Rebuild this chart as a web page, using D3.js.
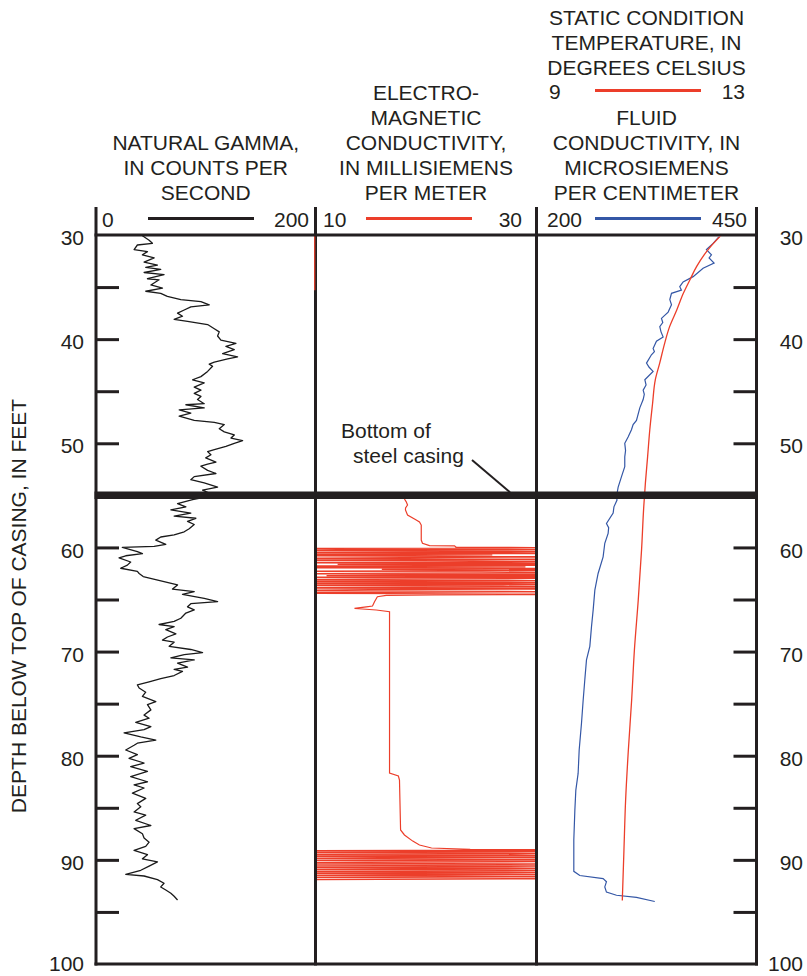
<!DOCTYPE html>
<html>
<head>
<meta charset="utf-8">
<script src="https://cdn.jsdelivr.net/npm/d3@7"></script>
<style>
  html, body { margin: 0; padding: 0; background: #fff; }
  svg { display: block; font-family: "Liberation Sans", Arial, Helvetica, sans-serif; }
</style>
</head>
<body>
<svg id="chart" width="807" height="976"></svg>
<script>
// ---- Depth axis ----
const depthLabels = [30, 40, 50, 60, 70, 80, 90, 100];
const depthMinorTicks = [35, 40, 45, 50, 55, 60, 65, 70, 75, 80, 85, 90, 95];
const casingDepth = 55;

// ---- Natural gamma, counts per second: [depth ft, value] ----
const gamma = [
  [30.05,42],[30.5,48.4],[30.8,51.4],[30.96,37.7],[31.4,34.7],[31.6,46.9],[31.9,42.3],[32.2,53],
  [32.6,43.8],[32.9,56],[33.1,45.3],[33.3,59],[33.6,43.8],[33.8,62],[34.2,46.9],[34.3,57.5],
  [34.8,50],[35.1,60.6],[35.4,45.3],[35.6,59],[35.9,65],[36.2,77.3],[36.4,95.6],[36.7,103.2],
  [36.9,86.4],[37.2,80.4],[37.5,74.3],[37.8,78.8],[38.1,71.2],[38.3,83.4],[38.6,101.7],[39,107.8],
  [39.3,112.3],[39.7,110.8],[40.1,113.8],[40.4,127.5],[40.7,118.4],[41,126],[41.4,115.4],[41.7,129],
  [41.9,120],[42.2,107.8],[42.4,103.2],[42.6,106.2],[43.1,101.7],[43.6,95.6],[43.9,88],[44.2,98.6],
  [44.6,89.5],[44.9,95.6],[45.2,89.5],[45.5,95.6],[45.8,92.5],[46.2,98.6],[46.3,81.9],[46.6,98.6],
  [46.8,75.8],[47.1,86.4],[47.4,75.8],[47.8,89.5],[48,107.8],[48.2,116.9],[48.6,112.3],[48.9,116.9],
  [49.2,126],[49.5,123],[49.75,133.6],[50,126],[50.3,118.4],[50.6,107.8],[50.8,101.7],[51.1,104.7],
  [51.4,100],[51.8,109.3],[52,101.7],[52.2,95.6],[52.6,101.7],[52.9,109.3],[53.2,89.5],[53.5,86.4],
  [53.8,98.6],[54.2,110.8],[54.5,97.1],[55,107.8],[55.4,88],[55.8,74.3],[56.1,81.9],[56.4,68.2],
  [56.7,86.4],[57,71.2],[57.2,91],[57.5,83.4],[57.8,89.5],[58.2,84.9],[58.5,80.4],[58.8,71.2],
  [59,59],[59.3,54.5],[59.7,63.6],[59.9,53],[60,24],[60.4,37.7],[60.6,42.3],[60.8,27.1],
  [61,21],[61.4,31.6],[61.7,28.6],[62,22.5],[62.3,37.7],[62.5,39.3],[62.8,43],[63.6,74.3],
  [64,69.7],[64.25,89.5],[64.5,78.8],[64.9,98.6],[65.2,110.8],[65.4,86.4],[65.7,83.4],[66,89.5],
  [66.3,81.9],[66.8,77.3],[67.1,71.2],[67.4,57.5],[67.6,71.2],[67.9,63.6],[68.3,72.8],[68.6,65.1],
  [68.9,60.6],[69.1,71.2],[69.5,66.7],[69.8,86.4],[70.1,97.1],[70.3,80.4],[70.6,68.2],[70.8,89.5],
  [71.1,74.3],[71.5,83.4],[71.7,71.2],[71.9,78.8],[72.3,71.2],[72.6,59],[72.9,48.4],[73.2,37.7],
  [73.5,39.3],[73.9,45.3],[74.3,42.3],[74.8,54.5],[75.1,46.9],[75.6,50],[76.1,43.8],[76.4,48.4],
  [76.8,36.2],[77.2,50],[77.5,43.8],[77.8,25.6],[78.2,40.8],[78.5,54.5],[78.8,37.7],[79,34.7],
  [79.45,27.1],[79.9,37.7],[80.25,30.1],[80.7,43.8],[81.05,31.6],[81.5,46.9],[82,31.6],[82.5,46.9],
  [82.8,34.7],[83.1,43.8],[83.6,33.2],[84.1,45.3],[84.6,37.7],[84.9,40.8],[85.4,34.7],[85.7,45.3],
  [86.2,36.2],[86.7,50],[87,34.7],[87.5,42.3],[87.9,43.8],[88.3,48.4],[88.7,45.3],[89.1,34.7],
  [89.5,46.9],[89.9,42.3],[90.2,56],[90.6,48.4],[91,40.8],[91.4,27.1],[91.55,43.8],[91.9,56],
  [92.25,62],[92.6,59],[92.9,63.6],[93.2,68.2],[93.5,71.2],[93.85,74.3]
];

// ---- Electromagnetic conductivity, millisiemens per meter: [depth ft, value] ----
// null marks the gap in the record; off-scale readings run past the track edges.
const emConductivity = [
  [30.0,9.93],[35.3,9.93],[null,null],
  [55.35,18.05],[55.6,18.2],[55.93,18.33],[56.2,18.15],[56.4,18.14],[56.89,18.33],[57.3,19.0],
  [57.56,19.41],[57.85,19.57],[59.29,19.57],[59.6,19.68],[59.83,20.32],[59.85,22.58],[59.99,22.73],
  [60.0,27.56],[60.05,34],[60.1,4],[60.18,14],[60.22,35],[60.3,3],[60.36,23],[60.42,36],[60.5,5],
  [60.58,36],[60.66,4],[60.72,26],[60.8,2],[60.9,36],[60.98,18],[61.05,4],[61.15,36],[61.22,6],
  [61.3,21],[61.38,37],[61.46,3],[61.55,35],[61.62,12],[61.7,37],[61.78,5],[61.86,29],[61.94,2],
  [62.02,36],[62.1,16],[62.2,38],[62.28,4],[62.36,25],[62.45,36],[62.52,3],[62.62,34],[62.7,11],
  [62.78,36],[62.86,5],[62.95,36],[63.02,20],[63.1,3],[63.2,37],[63.28,4],[63.38,33],[63.46,8],
  [63.55,36],[63.64,2],[63.72,27],[63.8,36],[63.88,4],[63.98,36],[64.06,15],[64.15,3],[64.25,35],
  [64.38,2],[64.5,35],[64.57,20.77],[64.6,16.4],[64.73,15.6],[65.21,15.34],[65.63,15.16],[65.7,14.6],
  [65.85,13.53],[65.91,14.25],[66.01,15.5],[66.17,16.7],[81.66,16.7],[81.95,17.5],[82.33,17.6],
  [87.13,17.7],[87.61,18.05],[88.2,18.8],[88.57,19.41],[88.86,20.5],[89.0,24],
  [89.05,36],[89.12,3],[89.2,37],[89.3,4],[89.4,35],[89.48,2],[89.58,36],[89.66,5],[89.75,34],
  [89.85,3],[89.95,37],[90.05,4],[90.15,36],[90.22,19],[90.3,3],[90.4,36],[90.5,5],[90.6,35],
  [90.7,3],[90.8,36],[90.9,4],[91.0,37],[91.1,2],[91.2,35],[91.3,5],[91.4,36],[91.5,3],[91.6,34],
  [91.7,4],[91.8,36],[91.93,3]
];

// ---- Fluid conductivity, microsiemens per centimeter: [depth ft, value] ----
const fluidConductivity = [
  [30.0,409],[30.16,407.5],[30.8,400.7],[31.4,393.1],[31.9,398.8],[32.2,396.1],[32.7,401.8],
  [33.2,389.3],[34,378],[34.5,366.6],[34.96,362.8],[35.3,364.7],[35.6,353.4],[36.2,351.5],
  [36.7,353.4],[37.4,349.6],[38,342],[38.4,343.5],[38.8,340.1],[39.3,341.5],[39.8,343.9],
  [40.2,336.3],[40.9,332.5],[41.2,334],[41.5,330.6],[42.3,325],[42.7,328],[43.1,332.5],[43.9,323.1],
  [44.4,324.5],[44.9,321.2],[45.3,322.5],[45.8,321.2],[46.6,317.4],[47.8,313.6],[48.2,309.8],
  [48.7,307.9],[49.4,304.1],[50,300.3],[50.7,301.2],[51.3,300.3],[52.25,300.3],[53.2,296.6],
  [54.2,292.8],[55.1,290.9],[55.45,291.5],[56.1,288],[56.7,287.1],[57.7,279.5],[58.1,282],
  [58.65,281.4],[59.6,277.6],[60.9,275.7],[62.5,270],[64.1,266.3],[66,264.4],[67.6,262.5],
  [69.5,260.6],[70.8,256.8],[72.7,254.9],[74.7,253],[76.9,251.1],[79.45,248.5],[81.7,247.3],
  [83.3,244.7],[85.2,243.6],[88.1,242.4],[91.1,242.4],[91.5,249.2],[91.8,275.7],[92.1,279.5],
  [92.6,277.6],[93.1,279.5],[93.4,290.9],[93.6,313.6],[94,334.4]
];

// ---- Static condition temperature, degrees Celsius: [depth ft, value] ----
const temperature = [
  [30,12.36],[31.4,12.12],[33.04,11.91],[34.3,11.79],[35.6,11.67],[37.2,11.55],[38.8,11.42],
  [40.4,11.33],[42.3,11.24],[43.9,11.16],[46.2,11.11],[48.7,11.06],[51.3,11.02],[53.8,10.98],
  [56.1,10.95],[60.25,10.91],[65.05,10.85],[69.85,10.78],[74.65,10.73],[79.45,10.67],[84.3,10.62],
  [89.06,10.59],[93.9,10.56]
];

// ---- Track headings and scale labels ----
const gammaTitle = ["NATURAL GAMMA,", "IN COUNTS PER", "SECOND"];
const emTitle = ["ELECTRO-", "MAGNETIC", "CONDUCTIVITY,", "IN MILLISIEMENS", "PER METER"];
const tempTitle = ["STATIC CONDITION", "TEMPERATURE, IN", "DEGREES CELSIUS"];
const fluidTitle = ["FLUID", "CONDUCTIVITY, IN", "MICROSIEMENS", "PER CENTIMETER"];
const gammaRange = [0, 200];
const emRange = [10, 30];
const tempRange = [9, 13];
const fluidRange = [200, 450];

// ---- Layout ----
const ink = "#231f20";
const red = "#ec3e2a";
const blue = "#3457a6";
const fontSize = 21;
const plotTop = 235, plotBottom = 964;
const trackX = [96, 315.5, 536.5, 756.5];

const svg = d3.select("#chart");

const y = d3.scaleLinear().domain([30, 100]).range([plotTop, plotBottom]);
const xGamma = d3.scaleLinear().domain(gammaRange).range([trackX[0], trackX[1]]);
const xEm = d3.scaleLinear().domain(emRange).range([trackX[1], trackX[2]]);
const xFluid = d3.scaleLinear().domain(fluidRange).range([trackX[2], trackX[3]]);
const xTemp = d3.scaleLinear().domain(tempRange).range([trackX[2], trackX[3]]);

const defs = svg.append("defs");
function clipRects(id, rects) {
  const cp = defs.append("clipPath").attr("id", id);
  rects.forEach(r => cp.append("rect").attr("x", r[0]).attr("y", r[1]).attr("width", r[2]).attr("height", r[3]));
}
clipRects("clip-gamma", [[trackX[0] + 1.5, plotTop, trackX[1] - trackX[0] - 3, plotBottom - plotTop]]);
clipRects("clip-em", [
  [trackX[1] + 1.5, plotTop + 1.5, trackX[2] - trackX[1] - 3, plotBottom - plotTop - 3],
  [trackX[1] - 2, plotTop + 1.5, 4, y(40) - plotTop]
]);
clipRects("clip-fluid", [[trackX[2] + 1.5, plotTop + 1.5, trackX[3] - trackX[2] - 3, plotBottom - plotTop - 3]]);

// ---- Frame ----
const frame = svg.append("g").attr("stroke", ink).attr("stroke-width", 3);
trackX.forEach(x => frame.append("line").attr("x1", x).attr("x2", x).attr("y1", 207).attr("y2", plotBottom + 1.5));
frame.append("line").attr("x1", trackX[0] - 1.5).attr("x2", trackX[3] + 1.5).attr("y1", plotTop).attr("y2", plotTop);
frame.append("line").attr("x1", trackX[0] - 1.5).attr("x2", trackX[3] + 1.5).attr("y1", plotBottom).attr("y2", plotBottom);

// ---- Depth ticks (inside the outer edges) ----
function styleTicks(g) {
  g.select(".domain").remove();
  g.selectAll(".tick line").attr("stroke", ink).attr("stroke-width", 3);
  g.selectAll(".tick text").remove();
}
svg.append("g").attr("transform", `translate(${trackX[0]},0)`)
  .call(d3.axisRight(y).tickValues(depthMinorTicks).tickSize(23)).call(styleTicks);
svg.append("g").attr("transform", `translate(${trackX[3]},0)`)
  .call(d3.axisLeft(y).tickValues(depthMinorTicks).tickSize(23)).call(styleTicks);

// ---- Depth labels ----
function styleLabels(g) {
  g.select(".domain").remove();
  g.selectAll(".tick line").remove();
  g.attr("font-family", null).attr("font-size", null);
  g.selectAll(".tick text").attr("fill", ink)
    .attr("dy", d => d === 100 ? "0.3em" : "0.46em")
    .style("font-size", fontSize + "px");
}
svg.append("g").attr("transform", `translate(${trackX[0]},0)`)
  .call(d3.axisLeft(y).tickValues(depthLabels).tickSize(0).tickPadding(12)).call(styleLabels);
svg.append("g").attr("transform", `translate(${trackX[3]},0)`)
  .call(d3.axisRight(y).tickValues(depthLabels).tickSize(0).tickPadding(0)).call(styleLabels)
  .selectAll(".tick text").attr("text-anchor", "end").attr("x", 803 - trackX[3]);

// ---- Axis title ----
svg.append("text")
  .attr("transform", `translate(26,606) rotate(-90)`)
  .attr("text-anchor", "middle").attr("fill", ink).style("font-size", fontSize + "px")
  .text("DEPTH BELOW TOP OF CASING, IN FEET");

// ---- Headings ----
function heading(lines, cx, lastBaseline) {
  const g = svg.append("g").attr("fill", ink).style("font-size", fontSize + "px").attr("text-anchor", "middle");
  lines.forEach((t, i) => g.append("text").attr("x", cx).attr("y", lastBaseline - (lines.length - 1 - i) * 25).text(t));
}
heading(gammaTitle, (trackX[0] + trackX[1]) / 2, 200);
heading(emTitle, (trackX[1] + trackX[2]) / 2, 200);
heading(tempTitle, (trackX[2] + trackX[3]) / 2, 75);
heading(fluidTitle, (trackX[2] + trackX[3]) / 2, 200);

// ---- Scale legends ----
function legend(range, x0, x1, lineX0, lineX1, baseline, color) {
  const g = svg.append("g").attr("fill", ink).style("font-size", fontSize + "px");
  g.append("text").attr("x", x0).attr("y", baseline).text(range[0]);
  g.append("text").attr("x", x1).attr("y", baseline).attr("text-anchor", "end").text(range[1]);
  g.append("line").attr("x1", lineX0).attr("x2", lineX1)
    .attr("y1", baseline - 8.5).attr("y2", baseline - 8.5)
    .attr("stroke", color).attr("stroke-width", 3);
}
legend(gammaRange, 102, 309, 148, 254, 227, ink);
legend(emRange, 323, 522, 366, 472, 227, red);
legend(tempRange, 549, 745, 595, 701, 99, red);
legend(fluidRange, 547, 747, 595, 701, 227, blue);

// ---- Curves ----
const lineOf = xs => d3.line().defined(d => d[0] != null).x(d => xs(d[1])).y(d => y(d[0]));

svg.append("path").datum(gamma).attr("clip-path", "url(#clip-gamma)")
  .attr("d", lineOf(xGamma)).attr("fill", "none").attr("stroke", "#1a1a1a").attr("stroke-width", 1.3)
  .attr("stroke-linejoin", "round");

svg.append("path").datum(emConductivity).attr("clip-path", "url(#clip-em)")
  .attr("d", lineOf(xEm)).attr("fill", "none").attr("stroke", red).attr("stroke-width", 1.2);

svg.append("path").datum(fluidConductivity).attr("clip-path", "url(#clip-fluid)")
  .attr("d", lineOf(xFluid)).attr("fill", "none").attr("stroke", blue).attr("stroke-width", 1.2);

svg.append("path").datum(temperature).attr("clip-path", "url(#clip-fluid)")
  .attr("d", lineOf(xTemp).curve(d3.curveMonotoneY)).attr("fill", "none").attr("stroke", red).attr("stroke-width", 1.3);

// ---- Bottom of steel casing ----
svg.append("line")
  .attr("x1", trackX[0] - 1.5).attr("x2", trackX[3] + 1.5)
  .attr("y1", y(casingDepth)).attr("y2", y(casingDepth))
  .attr("stroke", ink).attr("stroke-width", 7.5);

const note = svg.append("g").attr("fill", ink).style("font-size", fontSize + "px");
note.append("text").attr("x", 341).attr("y", 438).text("Bottom of");
note.append("text").attr("x", 353).attr("y", 463).text("steel casing");
note.append("line").attr("x1", 472).attr("y1", 460).attr("x2", 510).attr("y2", y(casingDepth) - 3)
  .attr("stroke", ink).attr("stroke-width", 2);
</script>
</body>
</html>
